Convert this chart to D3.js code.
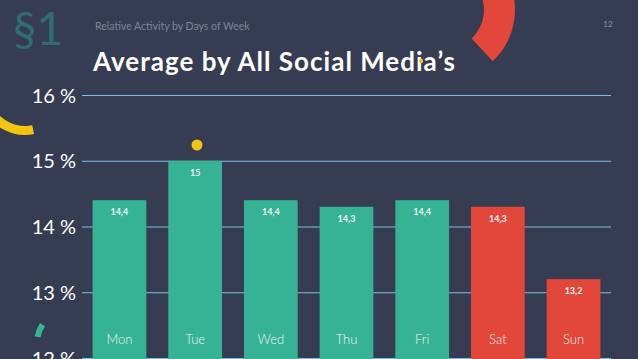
<!DOCTYPE html>
<html><head><meta charset="utf-8">
<script src="https://cdn.jsdelivr.net/npm/d3@7/dist/d3.min.js"></script>
<style>
html,body{margin:0;padding:0;background:#363c52;overflow:hidden}
svg{display:block}
text{font-family:Lato,"Open Sans",sans-serif}
</style></head>
<body>
<svg id="c" width="638" height="359"></svg>
<script>
const days = ["Mon","Tue","Wed","Thu","Fri","Sat","Sun"];
const values = [14.4, 15, 14.4, 14.3, 14.4, 14.3, 13.2];
const valueLabels = ["14,4","15","14,4","14,3","14,4","14,3","13,2"];
const weekend = [false,false,false,false,false,true,true];
const yTicks = [12,13,14,15,16];

const W = 638, H = 359;
const svg = d3.select("#c");
svg.append("rect").attr("width",W).attr("height",H).attr("fill","#363c52");

// decorations
const arc = d3.arc();
svg.append("path").attr("transform","translate(445,10)")
  .attr("d", arc({innerRadius:39,outerRadius:70,startAngle:-0.3,endAngle:2.39}))
  .attr("fill","#e2473a");
svg.append("path").attr("transform","translate(25,90)")
  .attr("d", arc({innerRadius:36,outerRadius:45,startAngle:2.94,endAngle:4.7}))
  .attr("fill","#f2c511");
svg.append("path").attr("transform","translate(70,343)")
  .attr("d", arc({innerRadius:30,outerRadius:36,startAngle:4.9,endAngle:5.3}))
  .attr("fill","#35b394");
svg.append("circle").attr("cx",197).attr("cy",145).attr("r",5.5).attr("fill","#f2c511");

svg.append("text").attr("x",13).attr("y",45).attr("font-size",47).attr("fill","#2e6d72").text("§1");
svg.append("text").attr("x",95).attr("y",30).attr("font-size",10.5).attr("fill","#7d8499").text("Relative Activity by Days of Week");
svg.append("text").attr("x",93).attr("y",71).attr("font-size",26).attr("font-weight","bold").attr("fill","#ffffff")
  .attr("textLength",362).attr("lengthAdjust","spacing").text("Average by All Social Media’s");
svg.append("circle").attr("cx",421).attr("cy",61).attr("r",2.2).attr("fill","#f2c511");
svg.append("text").attr("x",608).attr("y",27).attr("font-size",8).attr("text-anchor","middle").attr("fill","#8a92a8").text("12");

// scales
const x = d3.scaleBand().domain(days).range([82,611]).paddingInner(0.29).paddingOuter(0.14);
const y = d3.scaleLinear().domain([12,16]).range([358,95]);

// grid
const yAxis = d3.axisLeft(y).tickValues(yTicks).tickSize(-(611-82)).tickFormat(d => d + " %");
const ga = svg.append("g").attr("transform","translate(82,0)").call(yAxis);
ga.select(".domain").remove();
ga.selectAll(".tick line").attr("stroke","#7dc0de").attr("stroke-width",1);
ga.selectAll(".tick text").attr("fill","#ffffff").attr("font-size",20).attr("x",-6).attr("dy","0.36em")
  .attr("font-family","Lato, sans-serif");

// bars
const data = days.map((d,i)=>({day:d,v:values[i],lab:valueLabels[i],we:weekend[i]}));
svg.selectAll("rect.bar").data(data).enter().append("rect").attr("class","bar")
  .attr("x",d=>x(d.day)).attr("width",x.bandwidth())
  .attr("y",d=>y(d.v)).attr("height",d=>H - y(d.v))
  .attr("fill",d=>d.we ? "#e2473a" : "#35b394");

svg.selectAll("text.val").data(data).enter().append("text").attr("class","val")
  .attr("x",d=>x(d.day)+x.bandwidth()/2).attr("y",d=>y(d.v)+15)
  .attr("text-anchor","middle").attr("font-size",9).attr("font-weight","bold").attr("fill","#f2f6f4")
  .text(d=>d.lab);

svg.selectAll("text.day").data(data).enter().append("text").attr("class","day")
  .attr("x",d=>x(d.day)+x.bandwidth()/2).attr("y",344)
  .attr("text-anchor","middle").attr("font-size",13).attr("font-weight",300).attr("fill","#eef3f2")
  .text(d=>d.day);
</script>
</body></html>
